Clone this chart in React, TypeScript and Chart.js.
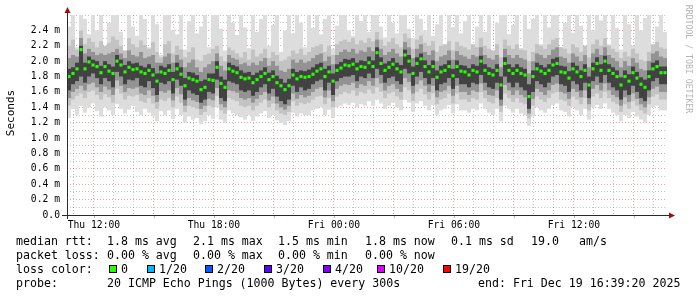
import React, { useEffect, useRef } from 'react';
import { Chart, registerables } from 'chart.js';
Chart.register(...registerables);

// time axis: hours since Thu 00:00; graph spans 30 h ending Fri 16:39:20
const START_HOUR = 10 + 39 / 60 + 20 / 3600;
const END_HOUR = START_HOUR + 30;
const STEP_HOURS = 0.2;

const xTickHours = [12, 18, 24, 30, 36];
const xTickLabels = ['Thu 12:00', 'Thu 18:00', 'Fri 00:00', 'Fri 06:00', 'Fri 12:00'];
const yTickValues = [0, 0.2, 0.4, 0.6, 0.8, 1.0, 1.2, 1.4, 1.6, 1.8, 2.0, 2.2, 2.4];
const yTickLabels = ['0.0', '0.2 m', '0.4 m', '0.6 m', '0.8 m', '1.0 m', '1.2 m', '1.4 m', '1.6 m', '1.8 m', '2.0 m', '2.2 m', '2.4 m'];

// median RTT (ms)
const medianRtt = [
  1.80, 1.84, 1.90, 2.15, 1.90, 1.99, 1.95, 1.93, 1.85, 1.93,
  1.87, 1.84, 2.00, 1.95, 1.86, 1.92, 1.89, 1.90, 1.86, 1.84,
  1.88, 1.82, 1.74, 1.86, 1.84, 1.88, 1.76, 1.90, 1.83, 1.68,
  1.78, 1.76, 1.74, 1.63, 1.66, 1.76, 1.75, 1.92, 1.71, 1.66,
  1.90, 1.87, 1.85, 1.79, 1.77, 1.78, 1.72, 1.76, 1.80, 1.84,
  1.76, 1.80, 1.72, 1.68, 1.63, 1.68, 1.82, 1.77, 1.80, 1.79,
  1.80, 1.83, 1.87, 1.90, 1.80, 1.86, 1.74, 1.88, 1.91, 1.95,
  1.94, 1.96, 1.90, 1.93, 1.92, 1.98, 1.93, 2.11, 1.97, 1.88,
  1.92, 1.96, 1.90, 1.86, 2.08, 2.00, 1.84, 1.97, 2.03, 1.93,
  1.86, 1.93, 1.79, 1.86, 1.88, 1.93, 1.81, 1.93, 1.87, 1.86,
  1.82, 1.88, 1.86, 2.00, 1.88, 1.84, 1.82, 1.88, 1.69, 1.97,
  1.88, 1.84, 1.88, 1.84, 1.82, 1.54, 1.80, 1.90, 1.87, 1.84,
  1.88, 1.95, 1.97, 1.86, 1.85, 1.78, 1.90, 1.86, 1.80, 1.88,
  1.69, 1.90, 1.97, 1.88, 2.00, 1.88, 1.84, 1.80, 1.69, 1.80,
  1.74, 1.85, 1.78, 1.70, 1.66, 1.80, 1.90, 1.93, 1.85, 1.85,
];

// smoke: outermost pings (max / min)
const smokeMax = [
  2.45, 2.62, 2.18, 2.62, 2.55, 2.35, 2.62, 2.40, 2.62, 2.16,
  2.50, 2.62, 2.62, 2.38, 2.12, 2.62, 2.45, 2.33, 2.62, 2.55,
  2.18, 2.62, 2.48, 2.08, 2.62, 2.62, 2.40, 2.35, 2.62, 2.15,
  2.52, 2.62, 2.36, 2.45, 2.62, 2.18, 2.62, 2.62, 2.42, 2.14,
  2.62, 2.50, 2.34, 2.62, 2.44, 2.17, 2.62, 2.38, 2.55, 2.62,
  2.20, 2.47, 2.62, 2.12, 2.40, 2.62, 2.36, 2.62, 2.50, 2.18,
  2.62, 2.43, 2.62, 2.35, 2.55, 2.62, 2.16, 2.46, 2.62, 2.62,
  2.40, 2.33, 2.62, 2.52, 2.62, 2.38, 2.62, 2.62, 2.45, 2.31,
  2.62, 2.50, 2.36, 2.62, 2.62, 2.42, 2.30, 2.62, 2.55, 2.40,
  2.62, 2.33, 2.48, 2.62, 2.18, 2.62, 2.44, 2.62, 2.36, 2.52,
  2.62, 2.18, 2.45, 2.62, 2.38, 2.62, 2.14, 2.50, 2.62, 2.62,
  2.35, 2.47, 2.62, 2.17, 2.62, 2.42, 2.55, 2.62, 2.22, 2.62,
  2.44, 2.62, 2.62, 2.18, 2.50, 2.62, 2.37, 2.62, 2.46, 2.16,
  2.62, 2.40, 2.62, 2.53, 2.62, 2.22, 2.62, 2.43, 2.15, 2.62,
  2.48, 2.20, 2.62, 2.40, 2.56, 2.62, 2.17, 2.45, 2.62, 2.38,
];
const smokeMin = [
  1.26, 1.38, 1.30, 1.42, 1.33, 1.40, 1.45, 1.35, 1.28, 1.40,
  1.36, 1.30, 1.44, 1.38, 1.32, 1.37, 1.42, 1.34, 1.30, 1.38,
  1.33, 1.28, 1.22, 1.35, 1.30, 1.36, 1.25, 1.38, 1.30, 1.20,
  1.28, 1.24, 1.26, 1.18, 1.22, 1.30, 1.25, 1.40, 1.24, 1.20,
  1.36, 1.32, 1.30, 1.27, 1.24, 1.30, 1.22, 1.28, 1.32, 1.35,
  1.26, 1.30, 1.23, 1.20, 1.17, 1.22, 1.33, 1.28, 1.32, 1.30,
  1.30, 1.36, 1.38, 1.40, 1.30, 1.37, 1.26, 1.40, 1.42, 1.45,
  1.43, 1.46, 1.40, 1.44, 1.42, 1.48, 1.42, 1.50, 1.45, 1.38,
  1.42, 1.46, 1.40, 1.36, 1.50, 1.46, 1.34, 1.45, 1.48, 1.42,
  1.36, 1.43, 1.30, 1.36, 1.38, 1.43, 1.32, 1.44, 1.36, 1.36,
  1.33, 1.38, 1.36, 1.45, 1.38, 1.33, 1.30, 1.38, 1.22, 1.42,
  1.38, 1.33, 1.38, 1.32, 1.30, 1.16, 1.28, 1.40, 1.36, 1.33,
  1.38, 1.43, 1.45, 1.36, 1.34, 1.28, 1.40, 1.36, 1.30, 1.38,
  1.24, 1.40, 1.43, 1.38, 1.45, 1.38, 1.33, 1.30, 1.22, 1.30,
  1.26, 1.34, 1.28, 1.24, 1.20, 1.30, 1.40, 1.42, 1.36, 1.36,
];
// smoke: middle pings
const midHigh = [
  2.20, 2.28, 2.15, 2.40, 2.22, 2.30, 2.25, 2.18, 2.26, 2.20,
  2.24, 2.32, 2.28, 2.20, 2.14, 2.30, 2.22, 2.18, 2.27, 2.21,
  2.16, 2.25, 2.12, 2.05, 2.22, 2.26, 2.10, 2.20, 2.15, 2.05,
  2.12, 2.18, 2.02, 2.00, 2.08, 2.10, 2.16, 2.20, 2.06, 2.00,
  2.18, 2.14, 2.10, 2.05, 2.12, 2.02, 2.15, 2.06, 2.10, 2.16,
  2.04, 2.12, 2.08, 2.00, 2.02, 2.06, 2.14, 2.10, 2.16, 2.08,
  2.12, 2.18, 2.20, 2.22, 2.12, 2.20, 2.08, 2.22, 2.26, 2.28,
  2.25, 2.30, 2.22, 2.27, 2.24, 2.30, 2.26, 2.38, 2.28, 2.20,
  2.25, 2.30, 2.22, 2.18, 2.36, 2.30, 2.16, 2.28, 2.33, 2.24,
  2.20, 2.26, 2.12, 2.20, 2.22, 2.26, 2.14, 2.25, 2.20, 2.18,
  2.15, 2.22, 2.18, 2.30, 2.20, 2.16, 2.14, 2.22, 2.05, 2.28,
  2.20, 2.16, 2.22, 2.15, 2.14, 2.00, 2.12, 2.22, 2.20, 2.16,
  2.22, 2.28, 2.30, 2.18, 2.16, 2.10, 2.22, 2.18, 2.12, 2.20,
  2.05, 2.22, 2.28, 2.20, 2.30, 2.20, 2.16, 2.12, 2.04, 2.12,
  2.06, 2.16, 2.10, 2.02, 2.00, 2.12, 2.22, 2.25, 2.18, 2.16,
];
const midLow = [
  1.42, 1.50, 1.55, 1.58, 1.52, 1.60, 1.62, 1.56, 1.50, 1.57,
  1.53, 1.46, 1.64, 1.58, 1.50, 1.55, 1.54, 1.56, 1.48, 1.46,
  1.52, 1.45, 1.38, 1.50, 1.48, 1.52, 1.40, 1.54, 1.46, 1.34,
  1.42, 1.40, 1.38, 1.30, 1.34, 1.42, 1.40, 1.55, 1.36, 1.32,
  1.52, 1.50, 1.48, 1.42, 1.40, 1.42, 1.36, 1.42, 1.46, 1.50,
  1.40, 1.45, 1.36, 1.32, 1.30, 1.34, 1.48, 1.42, 1.46, 1.44,
  1.46, 1.50, 1.54, 1.55, 1.44, 1.52, 1.40, 1.54, 1.57, 1.60,
  1.58, 1.62, 1.55, 1.60, 1.58, 1.63, 1.58, 1.66, 1.60, 1.52,
  1.58, 1.60, 1.54, 1.50, 1.66, 1.62, 1.48, 1.60, 1.64, 1.57,
  1.50, 1.58, 1.44, 1.50, 1.52, 1.58, 1.45, 1.58, 1.50, 1.50,
  1.47, 1.52, 1.50, 1.60, 1.52, 1.47, 1.45, 1.52, 1.34, 1.58,
  1.52, 1.47, 1.52, 1.46, 1.44, 1.26, 1.42, 1.54, 1.50, 1.47,
  1.52, 1.58, 1.60, 1.50, 1.48, 1.42, 1.54, 1.50, 1.44, 1.52,
  1.36, 1.54, 1.58, 1.52, 1.60, 1.52, 1.47, 1.44, 1.34, 1.44,
  1.38, 1.48, 1.42, 1.36, 1.32, 1.44, 1.54, 1.57, 1.50, 1.50,
];
// smoke: inner pings
const innerHigh = [
  2.04, 2.08, 2.06, 2.30, 2.10, 2.16, 2.12, 2.08, 2.10, 2.08,
  2.10, 2.12, 2.16, 2.10, 2.04, 2.14, 2.08, 2.06, 2.12, 2.04,
  2.06, 2.08, 1.98, 1.98, 2.06, 2.10, 1.98, 2.08, 2.02, 1.92,
  1.98, 2.02, 1.92, 1.86, 1.92, 1.96, 2.00, 2.10, 1.94, 1.88,
  2.08, 2.04, 2.02, 1.96, 1.98, 1.94, 1.98, 1.95, 2.00, 2.04,
  1.94, 2.00, 1.94, 1.88, 1.86, 1.90, 2.02, 1.98, 2.02, 1.98,
  2.00, 2.04, 2.08, 2.10, 2.00, 2.06, 1.96, 2.08, 2.12, 2.15,
  2.12, 2.16, 2.10, 2.14, 2.12, 2.18, 2.13, 2.28, 2.16, 2.08,
  2.12, 2.16, 2.10, 2.06, 2.25, 2.18, 2.04, 2.16, 2.22, 2.12,
  2.08, 2.14, 2.00, 2.06, 2.08, 2.14, 2.02, 2.13, 2.08, 2.06,
  2.03, 2.08, 2.06, 2.18, 2.08, 2.04, 2.02, 2.08, 1.92, 2.16,
  2.08, 2.04, 2.08, 2.04, 2.02, 1.84, 2.00, 2.10, 2.08, 2.04,
  2.08, 2.15, 2.18, 2.06, 2.04, 1.98, 2.10, 2.06, 2.00, 2.08,
  1.92, 2.10, 2.16, 2.08, 2.18, 2.08, 2.04, 2.00, 1.92, 2.00,
  1.94, 2.04, 1.98, 1.90, 1.88, 2.00, 2.10, 2.13, 2.06, 2.04,
];
const innerLow = [
  1.52, 1.60, 1.64, 1.68, 1.62, 1.70, 1.72, 1.66, 1.60, 1.67,
  1.63, 1.56, 1.75, 1.68, 1.60, 1.65, 1.64, 1.66, 1.58, 1.56,
  1.62, 1.55, 1.47, 1.61, 1.59, 1.62, 1.49, 1.65, 1.57, 1.42,
  1.52, 1.49, 1.47, 1.38, 1.42, 1.51, 1.49, 1.65, 1.44, 1.40,
  1.62, 1.61, 1.59, 1.52, 1.50, 1.52, 1.46, 1.51, 1.56, 1.60,
  1.49, 1.54, 1.45, 1.40, 1.37, 1.42, 1.58, 1.51, 1.56, 1.53,
  1.55, 1.60, 1.64, 1.66, 1.53, 1.62, 1.48, 1.64, 1.68, 1.70,
  1.69, 1.72, 1.65, 1.70, 1.68, 1.74, 1.68, 1.78, 1.71, 1.62,
  1.68, 1.70, 1.64, 1.60, 1.78, 1.73, 1.58, 1.70, 1.75, 1.68,
  1.60, 1.68, 1.53, 1.60, 1.62, 1.68, 1.55, 1.68, 1.60, 1.60,
  1.56, 1.62, 1.60, 1.71, 1.62, 1.56, 1.55, 1.62, 1.42, 1.69,
  1.62, 1.56, 1.62, 1.56, 1.53, 1.32, 1.51, 1.64, 1.60, 1.56,
  1.62, 1.69, 1.71, 1.60, 1.58, 1.51, 1.64, 1.60, 1.53, 1.62,
  1.44, 1.64, 1.69, 1.62, 1.71, 1.62, 1.56, 1.53, 1.42, 1.53,
  1.47, 1.58, 1.51, 1.44, 1.40, 1.53, 1.64, 1.67, 1.60, 1.60,
];
// smoke: pings closest to the median
const coreHigh = [
  1.90, 1.92, 1.98, 2.20, 1.98, 2.06, 2.02, 2.00, 1.94, 2.00,
  1.96, 1.93, 2.08, 2.02, 1.95, 2.00, 1.97, 1.98, 1.94, 1.92,
  1.96, 1.91, 1.84, 1.94, 1.92, 1.96, 1.86, 1.98, 1.92, 1.78,
  1.86, 1.85, 1.82, 1.74, 1.76, 1.84, 1.84, 2.00, 1.80, 1.76,
  1.98, 1.95, 1.93, 1.88, 1.85, 1.86, 1.82, 1.85, 1.88, 1.92,
  1.85, 1.88, 1.81, 1.77, 1.72, 1.77, 1.90, 1.86, 1.88, 1.87,
  1.89, 1.92, 1.96, 1.98, 1.90, 1.94, 1.84, 1.96, 1.99, 2.03,
  2.02, 2.04, 1.98, 2.01, 2.00, 2.06, 2.01, 2.18, 2.05, 1.97,
  2.00, 2.04, 1.98, 1.95, 2.15, 2.08, 1.93, 2.05, 2.10, 2.01,
  1.95, 2.01, 1.88, 1.94, 1.96, 2.01, 1.90, 2.01, 1.95, 1.94,
  1.91, 1.96, 1.94, 2.07, 1.96, 1.92, 1.90, 1.96, 1.80, 2.05,
  1.96, 1.92, 1.96, 1.92, 1.90, 1.70, 1.88, 1.98, 1.95, 1.92,
  1.96, 2.03, 2.05, 1.94, 1.93, 1.87, 1.98, 1.94, 1.88, 1.96,
  1.80, 1.98, 2.05, 1.96, 2.07, 1.96, 1.92, 1.88, 1.79, 1.88,
  1.83, 1.93, 1.86, 1.79, 1.76, 1.88, 1.98, 2.01, 1.93, 1.93,
];
const coreLow = [
  1.62, 1.70, 1.74, 1.80, 1.72, 1.80, 1.84, 1.78, 1.70, 1.78,
  1.74, 1.66, 1.86, 1.80, 1.70, 1.76, 1.75, 1.78, 1.68, 1.66,
  1.74, 1.65, 1.56, 1.72, 1.70, 1.74, 1.58, 1.76, 1.68, 1.50,
  1.62, 1.58, 1.56, 1.46, 1.50, 1.60, 1.58, 1.76, 1.52, 1.48,
  1.74, 1.72, 1.70, 1.62, 1.60, 1.62, 1.55, 1.60, 1.66, 1.70,
  1.58, 1.64, 1.54, 1.48, 1.44, 1.50, 1.68, 1.60, 1.66, 1.62,
  1.64, 1.70, 1.74, 1.76, 1.62, 1.72, 1.56, 1.74, 1.78, 1.80,
  1.80, 1.82, 1.74, 1.80, 1.78, 1.84, 1.78, 1.90, 1.82, 1.72,
  1.78, 1.80, 1.74, 1.70, 1.90, 1.84, 1.68, 1.80, 1.86, 1.78,
  1.70, 1.78, 1.62, 1.70, 1.72, 1.78, 1.64, 1.78, 1.70, 1.70,
  1.66, 1.72, 1.70, 1.82, 1.72, 1.66, 1.64, 1.72, 1.50, 1.80,
  1.72, 1.66, 1.72, 1.66, 1.62, 1.38, 1.60, 1.74, 1.70, 1.66,
  1.72, 1.80, 1.82, 1.70, 1.68, 1.60, 1.74, 1.70, 1.62, 1.72,
  1.52, 1.74, 1.80, 1.72, 1.82, 1.72, 1.66, 1.62, 1.50, 1.62,
  1.56, 1.68, 1.60, 1.52, 1.48, 1.62, 1.74, 1.78, 1.70, 1.70,
];

// legend texts
const legendRow1 = [[16, 'median rtt:'], [107, '1.8 ms avg'], [193, '2.1 ms max'], [278, '1.5 ms min'], [365, '1.8 ms now'], [451, '0.1 ms sd'], [531, '19.0'], [579, 'am/s']];
const legendRow2 = [[16, 'packet loss:'], [107, '0.00 % avg'], [193, '0.00 % max'], [278, '0.00 % min'], [365, '0.00 % now']];
const lossLabels = ['0', '1/20', '2/20', '3/20', '4/20', '10/20', '19/20'];
const lossColors = ['#26ff00', '#00b8ff', '#0059ff', '#5e00ff', '#7e00ff', '#dd00ff', '#ff0000'];
const lossTextX = [121, 159, 217, 276, 335, 389, 455];
const legendRow4 = [[16, 'probe:'], [107, '20 ICMP Echo Pings (1000 Bytes) every 300s'], [478, 'end: Fri Dec 19 16:39:20 2025']];

const MONO = '"DejaVu Sans Mono", monospace';
const MAJOR = 'rgba(200,0,0,0.37)';
const MINOR = 'rgba(100,100,100,0.38)';

export default function App() {
  const ref = useRef<HTMLCanvasElement>(null);
  useEffect(() => {
    document.body.style.margin = '0';
    const canvas = ref.current!;
    const xs = medianRtt.map((_, i) => START_HOUR + (i + 0.5) * STEP_HOURS);
    const band = (lo: number[], hi: number[]) => xs.map((x, i) => ({ x, y: [lo[i], hi[i]] }));
    const barCommon = {
      type: 'bar' as const,
      barPercentage: 1,
      categoryPercentage: 1,
      grouped: false,
      borderWidth: 0,
      inflateAmount: 0,
      clip: 0,
    };
    const overlay = {
      id: 'overlay',
      afterDraw(chart: any) {
        const { ctx, chartArea: a, scales } = chart;
        const x = scales.x;
        ctx.save();
        ctx.strokeStyle = MAJOR;
        ctx.lineWidth = 1;
        for (let h = 12; h <= 39; h += 3) {
          const px = Math.round(x.getPixelForValue(h)) + 0.5;
          ctx.beginPath();
          ctx.moveTo(px, a.bottom);
          ctx.lineTo(px, a.bottom + 3);
          ctx.stroke();
        }
        ctx.strokeStyle = '#2a2a2a';
        ctx.beginPath();
        ctx.moveTo(a.left - 5, a.bottom + 0.5);
        ctx.lineTo(a.right + 3, a.bottom + 0.5);
        ctx.moveTo(a.left + 0.5, a.bottom + 4);
        ctx.lineTo(a.left + 0.5, a.top - 2);
        ctx.stroke();
        ctx.fillStyle = '#9a1010';
        ctx.beginPath();
        ctx.moveTo(a.left + 0.5, a.top - 8);
        ctx.lineTo(a.left - 2.5, a.top - 2);
        ctx.lineTo(a.left + 3.5, a.top - 2);
        ctx.closePath();
        ctx.fill();
        ctx.beginPath();
        ctx.moveTo(a.right + 8, a.bottom + 0.5);
        ctx.lineTo(a.right + 2, a.bottom - 2.5);
        ctx.lineTo(a.right + 2, a.bottom + 3.5);
        ctx.closePath();
        ctx.fill();
        ctx.fillStyle = '#000';
        ctx.font = `11px ${MONO}`;
        ctx.textAlign = 'center';
        ctx.textBaseline = 'middle';
        ctx.save();
        ctx.translate(11, 113);
        ctx.rotate(-Math.PI / 2);
        ctx.fillText('Seconds', 0, 0);
        ctx.restore();
        ctx.save();
        ctx.fillStyle = '#b4b4b4';
        ctx.font = `8.2px ${MONO}`;
        ctx.translate(688, 59);
        ctx.rotate(Math.PI / 2);
        ctx.fillText('RRDTOOL / TOBI OETIKER', 0, 0);
        ctx.restore();
        ctx.textAlign = 'left';
        ctx.textBaseline = 'alphabetic';
        ctx.fillStyle = '#000';
        ctx.font = `11.6px ${MONO}`;
        const rowY = [245, 259, 273, 287];
        legendRow1.forEach(([px, t]) => ctx.fillText(t as string, px as number, rowY[0]));
        legendRow2.forEach(([px, t]) => ctx.fillText(t as string, px as number, rowY[1]));
        ctx.fillText('loss color:', 16, rowY[2]);
        lossLabels.forEach((lab, i) => {
          const tx = lossTextX[i];
          const bx = tx - 12;
          ctx.fillStyle = lossColors[i];
          ctx.fillRect(bx, rowY[2] - 8, 8, 8);
          ctx.strokeStyle = '#000';
          ctx.strokeRect(bx + 0.5, rowY[2] - 7.5, 7, 7);
          ctx.fillStyle = '#000';
          ctx.fillText(lab, tx, rowY[2]);
        });
        legendRow4.forEach(([px, t]) => ctx.fillText(t as string, px as number, rowY[3]));
        ctx.restore();
      },
    };

    const chart = new Chart(canvas, {
      type: 'bar',
      data: {
        datasets: [
          {
            type: 'line',
            data: xs.map((x, i) => ({ x, y: medianRtt[i] })),
            showLine: false,
            pointStyle: 'rect',
            pointRadius: 2.2,
            pointBackgroundColor: '#26ff00',
            pointBorderWidth: 0,
            order: 0,
            clip: 0,
          } as any,
          { ...barCommon, data: band(coreLow, coreHigh), backgroundColor: '#424242', order: 1 } as any,
          { ...barCommon, data: band(innerLow, innerHigh), backgroundColor: '#939393', order: 2 } as any,
          { ...barCommon, data: band(midLow, midHigh), backgroundColor: '#c3c3c3', order: 3 } as any,
          { ...barCommon, data: band(smokeMin, smokeMax), backgroundColor: '#dddddd', order: 4 } as any,
        ],
      },
      options: {
        responsive: false,
        animation: false,
        events: [],
        layout: { padding: { top: 15, right: 30, left: 0, bottom: 0 } },
        plugins: { legend: { display: false }, tooltip: { enabled: false } },
        scales: {
          x: {
            type: 'linear',
            min: START_HOUR,
            max: END_HOUR,
            offset: false,
            z: 1,
            afterFit: (s: any) => { s.height = 82; },
            afterBuildTicks: (s: any) => {
              const t = [];
              for (let h = 11; h <= 40; h++) t.push({ value: h });
              s.ticks = t;
            },
            grid: {
              offset: false,
              drawTicks: false,
              lineWidth: 1,
              color: (c: any) => (c.tick && c.tick.value % 3 === 0 ? MAJOR : MINOR),
            },
            border: { display: false, dash: [1, 2] },
            ticks: {
              autoSkip: false,
              maxRotation: 0,
              minRotation: 0,
              padding: 5,
              color: '#000',
              font: { family: MONO, size: 9.7 },
              callback: (v: any) => {
                const k = xTickHours.indexOf(Number(v));
                return k >= 0 ? xTickLabels[k] : '';
              },
            },
          },
          y: {
            type: 'linear',
            min: 0,
            max: 2.6,
            z: 1,
            afterFit: (s: any) => { s.width = 67; },
            afterBuildTicks: (s: any) => {
              const t = [];
              for (let k = 0; k <= 26; k++) t.push({ value: k / 10 });
              s.ticks = t;
            },
            grid: {
              drawTicks: false,
              lineWidth: 1,
              color: (c: any) => {
                if (!c.tick) return MINOR;
                const k = Math.round(c.tick.value * 10);
                if (k === 0) return 'rgba(0,0,0,0)';
                return k % 2 === 0 && k < 26 ? MAJOR : MINOR;
              },
            },
            border: { display: false, dash: [1, 2] },
            ticks: {
              autoSkip: false,
              padding: 7,
              color: '#000',
              font: { family: MONO, size: 9.7 },
              callback: (v: any) => {
                const k = yTickValues.findIndex((t) => Math.abs(t - Number(v)) < 1e-6);
                return k >= 0 ? yTickLabels[k] : '';
              },
            },
          },
        },
      },
      plugins: [overlay],
    });
    return () => chart.destroy();
  }, []);
  return (
    <div style={{ position: 'absolute', left: 0, top: 0, width: 697, height: 297, background: '#fff' }}>
      <canvas ref={ref} width={697} height={297} style={{ width: 697, height: 297, display: 'block' }} />
    </div>
  );
}
